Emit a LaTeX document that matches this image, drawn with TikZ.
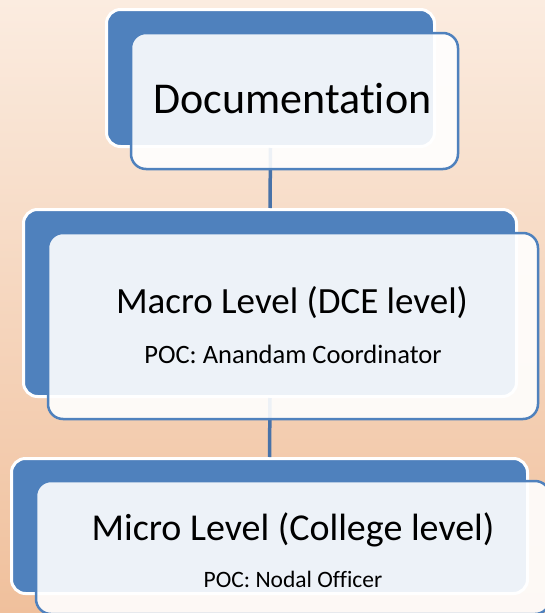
\documentclass[tikz,border=0pt]{standalone}
\usepackage{fontspec}
\setmainfont{Carlito}[Ligatures=NoCommon]
\definecolor{accent}{HTML}{4F81BD}
\definecolor{connblue}{HTML}{4872A8}
\definecolor{bgtop}{RGB}{251,236,224}
\definecolor{bgbot}{RGB}{240,192,156}
\begin{document}
\begin{tikzpicture}[x=1pt,y=-1pt,
  backbox/.style={rectangle, rounded corners=14pt, draw=white, line width=3pt, fill=accent, inner sep=0pt},
  frontbox/.style={rectangle, rounded corners=15pt, draw=accent, line width=2.5pt, fill=white, fill opacity=0.9, inner sep=0pt},
  connector/.style={draw=connblue, line width=3.5pt},
  lbl/.style={anchor=base, inner sep=0pt, text=black}]
\fill[top color=bgtop, bottom color=bgbot] (0,0) rectangle (545,613);
\useasboundingbox (0,0) rectangle (545,613);
% back boxes
\node[backbox, minimum width=328pt, minimum height=137pt] (b1) at (270.5,78) {};
\node[backbox, minimum width=493pt, minimum height=187pt] (b2) at (270,303) {};
\node[backbox, minimum width=516pt, minimum height=135pt] (b3) at (269.5,526) {};
% connectors
\draw[connector] (b1.south) -- (b2.north);
\draw[connector] (b2.south) -- (b3.north);
% front boxes
\node[frontbox, minimum width=327pt, minimum height=136pt] (f1) at (294.5,101) {};
\node[frontbox, minimum width=490pt, minimum height=186pt] (f2) at (293,326) {};
\node[frontbox, minimum width=514pt, minimum height=133pt] (f3) at (293,547.5) {};
% texts
\node[lbl, font=\fontsize{44}{50}\selectfont] (t1) at (292.5,113) {Documentation};
\node[lbl, font=\fontsize{37}{42}\selectfont] (t2) at (292,313) {Macro Level (DCE level)};
\node[lbl, font=\fontsize{26.5}{30}\selectfont] (t2b) at (293,363) {POC: Anandam Coordinator};
\node[lbl, font=\fontsize{38}{42}\selectfont] (t3) at (293,540) {Micro Level (College level)};
\node[lbl, font=\fontsize{23.5}{27}\selectfont] (t3b) at (293,587) {POC: Nodal Officer};
\end{tikzpicture}
\end{document}
